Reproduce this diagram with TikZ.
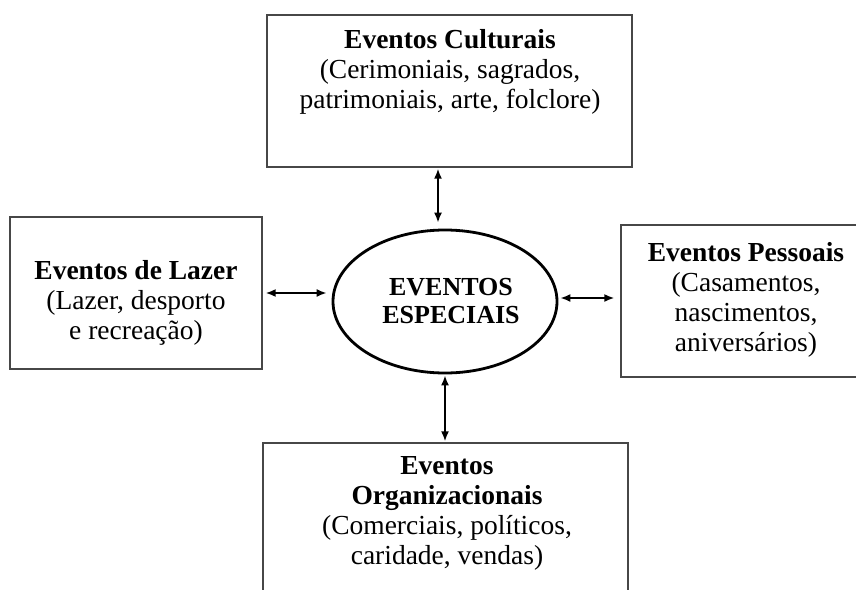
\documentclass[tikz,border=0pt]{standalone}
\usepackage{fontspec}
\setmainfont{Liberation Serif}
\usetikzlibrary{arrows.meta,shapes.geometric}
\tikzset{
  evbox/.style={draw=black!72, line width=1.4pt, rectangle, inner sep=0pt},
  evtext/.style={align=center, font=\fontsize{27.5}{30}\selectfont, inner sep=0pt},
  link/.style={{Latex[length=10pt,width=8pt]}-{Latex[length=10pt,width=8pt]}, line width=1.7pt},
}
\begin{document}
\begin{tikzpicture}[x=1pt,y=-1pt]
\useasboundingbox (0,0) rectangle (856,589);
\fill[white] (0,0) rectangle (856,589);
\clip (0,0) rectangle (856,589);

% outer category boxes
\node[evbox, minimum width=365pt, minimum height=152pt] (cult) at (449.5,91) {};
\node[evbox, minimum width=252pt, minimum height=152pt] (laz)  at (136,293) {};
\node[evbox, minimum width=250pt, minimum height=152pt] (pes)  at (746,301) {};
\node[evbox, minimum width=365pt, minimum height=152pt] (org)  at (445.5,519) {};

% box texts
\node[evtext] (culttxt) at (450,72)
  {\textbf{Eventos Culturais}\\(Cerimoniais, sagrados,\\patrimoniais, arte, folclore)};
\node[evtext] (laztxt) at (136,303)
  {\textbf{Eventos de Lazer}\\(Lazer, desporto\\e recreação)};
\node[evtext] (pestxt) at (746,300)
  {\textbf{Eventos Pessoais}\\(Casamentos,\\nascimentos,\\aniversários)};
\node[evtext] (orgtxt) at (447,513)
  {\textbf{Eventos}\\\textbf{Organizacionais}\\(Comerciais, políticos,\\caridade, vendas)};

% central ellipse
\node[ellipse, draw=black, line width=2.8pt, minimum width=224pt, minimum height=143pt, inner sep=0pt] (esp) at (445,301.5) {};
\node[align=center, inner sep=0pt, font=\fontsize{26}{28}\selectfont\bfseries] (esptxt) at (451,301)
  {EVENTOS\\ESPECIAIS};

% connectors
\draw[link, shorten <=1pt, shorten >=6pt] ([xshift=-7pt]esp.north |- cult.south) -- ([xshift=-7pt]esp.north);
\draw[link, shorten <=3pt, shorten >=5pt] (laz.east) -- (laz.east -| esp.west);
\draw[link, shorten <=2pt, shorten >=6pt] ([yshift=3.5pt]esp.east) -- ([yshift=3.5pt]esp.east -| pes.west);
\draw[link, shorten <=1pt, shorten >=1pt] (esp.south) -- (esp.south |- org.north);
\end{tikzpicture}
\end{document}
